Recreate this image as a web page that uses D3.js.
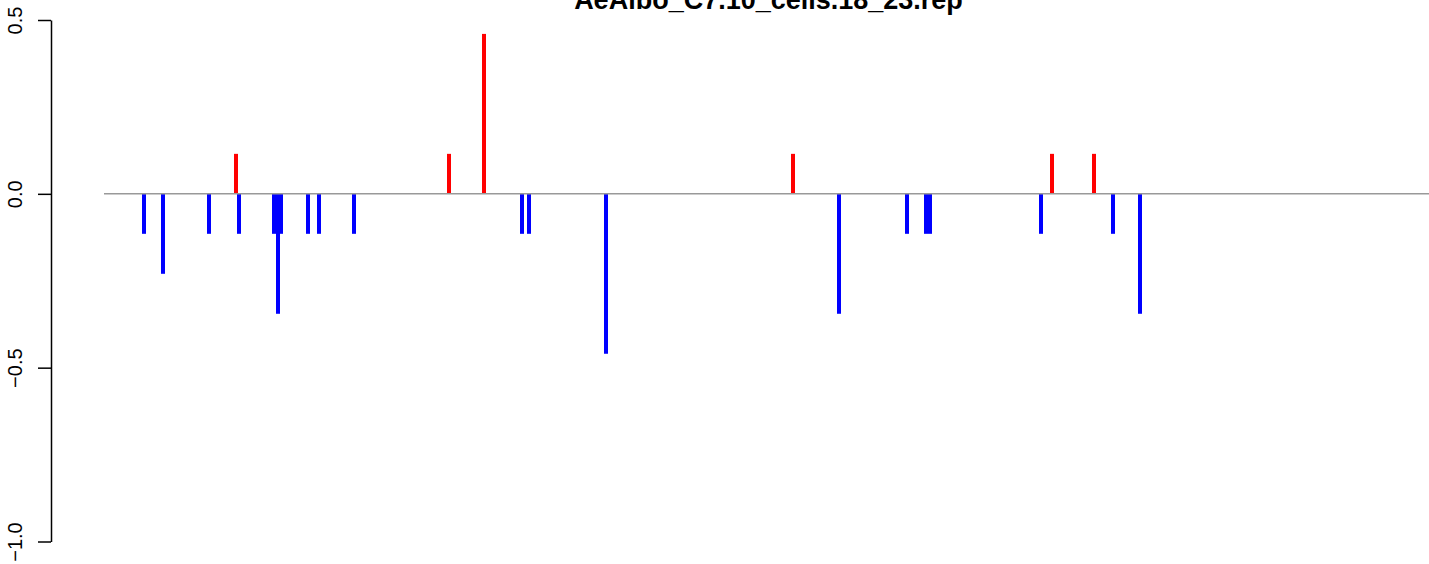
<!DOCTYPE html>
<html>
<head>
<meta charset="utf-8">
<script src="https://cdn.jsdelivr.net/npm/d3@7"></script>
<style>
  html, body { margin: 0; padding: 0; background: #fff; }
  svg { display: block; }
</style>
</head>
<body>
<svg id="chart" width="1429" height="564"></svg>
<script>
const title = "AeAlbo_C7.10_cells.18_23.rep";
const yTicks = [0.5, 0.0, -0.5, -1.0];
const yTickLabels = ["0.5", "0.0", "\u22120.5", "\u22121.0"];

// bar positions (horizontal coordinate along the track) and values
const positions = [40, 59, 105, 132, 135, 170, 174, 177, 204, 215, 250, 345, 380, 418, 425, 502, 689, 735, 803, 822, 826, 937, 948, 990, 1009, 1036];
const values    = [-0.115, -0.23, -0.115, 0.115, -0.115, -0.115, -0.345, -0.115, -0.115, -0.115, -0.115, 0.115, 0.46, -0.115, -0.115, -0.46, 0.115, -0.345, -0.115, -0.115, -0.115, -0.115, 0.115, 0.115, -0.115, -0.345];

const svg = d3.select("#chart");

const x = d3.scaleLinear().domain([0, 1325]).range([104, 1429]);
const y = d3.scaleLinear().domain([-1, 0.5]).range([541.5, 20]);

// bars
const barW = 4;
svg.append("g").selectAll("rect")
  .data(positions.map((p, i) => ({p, v: values[i]})))
  .join("rect")
  .attr("x", d => x(d.p) - barW / 2)
  .attr("width", barW)
  .attr("y", d => d.v >= 0 ? y(d.v) : y(0))
  .attr("height", d => Math.abs(y(d.v) - y(0)))
  .attr("fill", d => d.v >= 0 ? "#ff0000" : "#0000ff");

// zero line
svg.append("line")
  .attr("x1", x(0)).attr("x2", x(1325))
  .attr("y1", y(0)).attr("y2", y(0))
  .attr("stroke", "#999999")
  .attr("stroke-width", 1.5);

// y axis
const axis = d3.axisLeft(y).tickValues(yTicks).tickSize(13).tickSizeOuter(0)
  .tickFormat((d, i) => yTickLabels[i]);
const gAxis = svg.append("g").attr("transform", "translate(51,0)").call(axis);
gAxis.select(".domain").attr("stroke", "#000").attr("stroke-width", 1.5);
gAxis.selectAll(".tick line").attr("stroke", "#000").attr("stroke-width", 1.5);
gAxis.selectAll(".tick text")
  .attr("font-family", "Liberation Sans, Arial, sans-serif")
  .attr("font-size", 20)
  .attr("fill", "#000")
  .attr("text-anchor", "middle")
  .attr("x", 0).attr("dy", 0)
  .attr("transform", "translate(-29,0) rotate(-90)");

// title
svg.append("text")
  .attr("x", 768.5).attr("y", 8.5)
  .attr("text-anchor", "middle")
  .attr("font-family", "Liberation Sans, Arial, sans-serif")
  .attr("font-weight", "bold")
  .attr("font-size", 27)
  .attr("fill", "#000")
  .text(title);
</script>
</body>
</html>
